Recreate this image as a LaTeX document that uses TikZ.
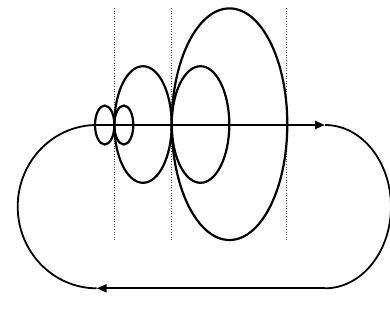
\documentclass[tikz,border=0pt]{standalone}
\usetikzlibrary{arrows.meta,shapes.geometric}
\tikzset{
  loop/.style={ellipse, draw=black, line width=2.2pt, inner sep=0pt},
  guide/.style={draw=black!70, line width=0.6pt, dotted},
  track/.style={draw=black, line width=1.8pt},
  arrow/.style={track, -{Triangle[length=10pt,width=8pt]}},
  mainarrow/.style={line width=2.2pt, draw=black, -{Triangle[length=10pt,width=8pt]}},
}
\begin{document}
\begin{tikzpicture}[x=1pt,y=-1pt]
  \useasboundingbox (0,0) rectangle (390,322);

  % dotted guides
  \draw[guide] (114.3,8) -- (114.3,240);
  \draw[guide] (171.7,8) -- (171.7,240);
  \draw[guide] (286.7,8) -- (286.7,240);

  % lens ellipses
  \node[loop,minimum width=19.4pt,minimum height=39pt] (s1) at (104.7,125) {};
  \node[loop,minimum width=19pt,minimum height=39pt] (s2) at (123.8,125) {};
  \node[loop,minimum width=57.4pt,minimum height=116.6pt] (m1) at (143,124.5) {};
  \node[loop,minimum width=57.6pt,minimum height=116.6pt] (m2) at (200.5,124.5) {};
  \node[loop,minimum width=115.6pt,minimum height=231.6pt] (big) at (229.5,124.2) {};

  % track
  \coordinate (start) at (95,125);
  \coordinate (tip) at (325,125);
  \coordinate (turn) at (325,288.3);
  \coordinate (back) at (96.7,288.3);

  \draw[mainarrow] (start) -- (tip);
  \draw[track] (tip) arc[start angle=-90, end angle=90, x radius=66, y radius=81.65];
  \draw[arrow] (turn) -- (back);
  \draw[track] (back) arc[start angle=90, end angle=270, x radius=79, y radius=81.65];
\end{tikzpicture}
\end{document}
